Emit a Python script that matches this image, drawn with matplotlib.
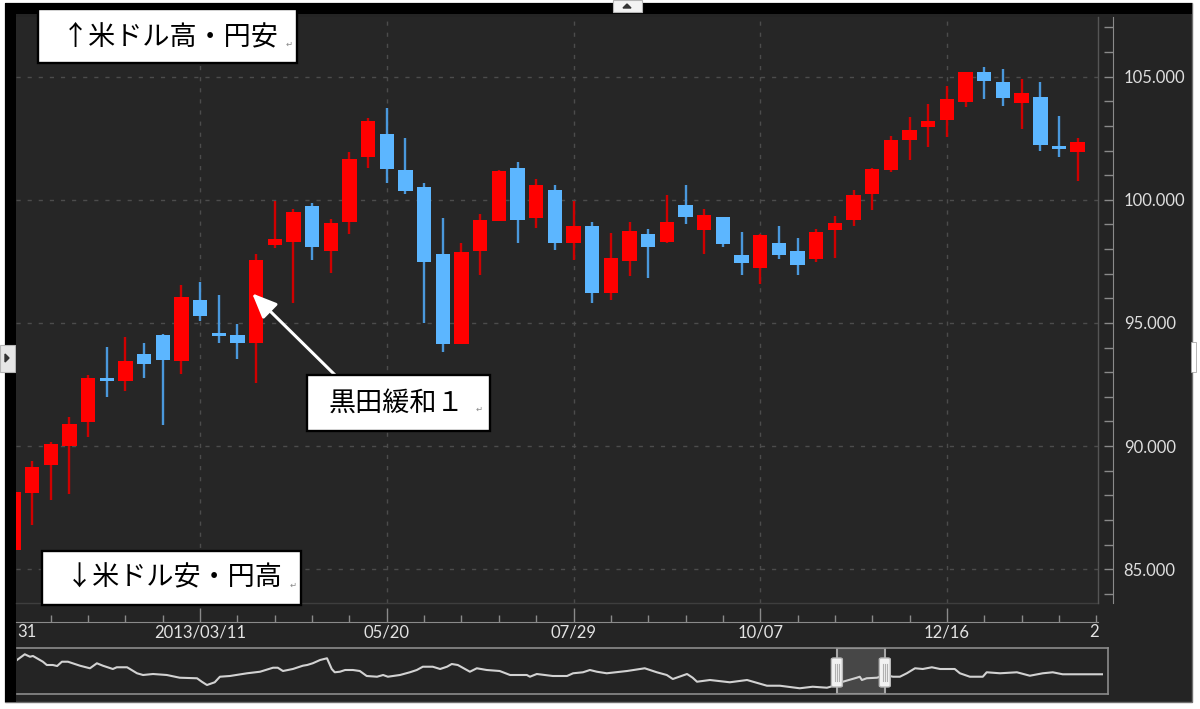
import matplotlib
matplotlib.use("Agg")
import matplotlib.pyplot as plt
import matplotlib.dates as mdates
from matplotlib.patches import Rectangle, FancyBboxPatch, Polygon
from matplotlib.transforms import blended_transform_factory
from matplotlib.lines import Line2D
from matplotlib.ticker import MultipleLocator, FixedLocator, FormatStrFormatter
import numpy as np
import pandas as pd

# ---------------- data ----------------
week_start = "2012-12-31"
opens  = [85.8, 88.1, 89.24, 90.02, 90.97, 92.78, 92.66, 93.74, 94.51, 93.47,
          95.93, 94.58, 94.51, 94.2, 98.17, 98.28, 99.75, 97.9, 99.09, 101.75,
          102.67, 101.21, 100.53, 97.8, 94.13, 97.94, 99.15, 101.28, 99.25, 100.4,
          98.24, 98.95, 96.2, 97.52, 98.6, 98.28, 99.79, 98.78, 99.29, 97.76,
          97.22, 98.23, 97.94, 97.6, 98.78, 99.18, 100.24, 101.21, 102.43, 102.97,
          103.24, 103.96, 105.18, 104.8, 103.94, 104.19, 102.2, 101.93]
highs  = [88.2, 89.4, 90.15, 91.17, 92.9, 94.04, 94.42, 94.18, 94.55, 96.54,
          96.68, 96.14, 94.95, 97.8, 99.94, 99.63, 99.86, 99.22, 101.95, 103.31,
          103.72, 102.5, 100.7, 99.25, 98.26, 99.43, 101.2, 101.52, 100.83, 100.6,
          99.95, 99.11, 98.64, 99.11, 98.8, 100.2, 100.6, 99.63, 99.32, 98.68,
          98.6, 98.95, 98.46, 98.8, 99.36, 100.4, 101.31, 102.59, 103.35, 103.88,
          104.62, 105.2, 105.41, 105.3, 104.89, 104.8, 103.4, 102.52]
lows   = [85.7, 86.8, 87.8, 88.06, 90.37, 92.0, 92.25, 92.76, 90.86, 92.93,
          95.09, 94.2, 93.53, 92.58, 98.03, 95.8, 97.56, 97.02, 98.6, 101.28,
          100.67, 100.24, 94.99, 93.8, 94.13, 96.95, 99.15, 98.26, 98.85, 97.96,
          97.56, 95.8, 95.93, 96.91, 96.82, 98.25, 99.02, 97.79, 98.1, 96.95,
          96.57, 97.58, 96.95, 97.46, 97.65, 98.94, 99.59, 101.14, 101.62, 102.16,
          102.54, 103.78, 104.09, 103.82, 102.86, 102.0, 101.75, 100.77]
closes = [88.15, 89.17, 90.09, 90.9, 92.78, 92.65, 93.47, 93.34, 93.5, 96.04,
          95.28, 94.47, 94.2, 97.56, 98.4, 99.52, 98.07, 99.05, 101.65, 103.2,
          101.24, 100.37, 97.46, 94.15, 97.87, 99.18, 101.17, 99.18, 100.6, 98.26,
          98.95, 96.2, 97.63, 98.73, 98.1, 99.11, 99.32, 99.38, 98.2, 97.42,
          98.57, 97.76, 97.36, 98.71, 99.07, 100.2, 101.25, 102.43, 102.84, 103.21,
          104.08, 105.18, 104.84, 104.12, 104.33, 102.23, 102.06, 102.36]

x_tick_weeks  = [10, 20, 30, 40, 50]
x_tick_labels = ["2013/03/11", "05/20", "07/29", "10/07", "12/16"]
x_edge_labels = ["31", "2"]          # visible remains of 12/31 and 2014/02/24 at the edges

# navigator (long-term overview line)
nav_years = [1994.01, 1994.19, 1994.31, 1994.38, 1994.61, 1994.70, 1994.84, 1994.94, 1995.05, 1995.19,
             1995.47, 1995.70, 1995.86, 1996.00, 1996.23, 1996.32, 1996.56, 1996.79, 1996.93, 1997.16,
             1997.48, 1997.78, 1998.18, 1998.29, 1998.41, 1998.59, 1998.71, 1998.94, 1999.34, 1999.64,
             1999.94, 2000.05, 2000.17, 2000.40, 2000.63, 2000.73, 2000.86, 2001.03, 2001.19, 2001.30,
             2001.37, 2001.49, 2001.61, 2001.79, 2001.95, 2002.11, 2002.35, 2002.49, 2002.60, 2002.88,
             2003.11, 2003.27, 2003.41, 2003.64, 2003.81, 2003.97, 2004.08, 2004.22, 2004.50, 2004.66,
             2004.89, 2005.19, 2005.43, 2005.82, 2005.89, 2006.05, 2006.42, 2006.75, 2006.89, 2007.12,
             2007.28, 2007.44, 2007.67, 2008.14, 2008.55, 2008.83, 2009.06, 2009.20, 2009.53, 2009.66,
             2009.76, 2010.06, 2010.52, 2010.92, 2011.38, 2011.68, 2012.14, 2012.44, 2012.77, 2013.00,
             2013.14, 2013.46, 2013.53, 2013.58, 2013.69, 2013.93, 2014.11, 2014.30, 2014.46, 2014.62,
             2014.81, 2014.99, 2015.20, 2015.39, 2015.73, 2015.85, 2016.08, 2016.38, 2016.47, 2016.78,
             2017.17, 2017.47, 2017.77, 2018.00, 2018.23, 2018.63, 2019.14]
nav_values = [132.0, 142.3, 137.9, 139.2, 128.9, 123.0, 123.0, 121.2, 128.9, 128.9,
              121.7, 117.1, 126.1, 121.7, 115.8, 118.9, 118.9, 108.1, 105.0, 106.8,
              105.0, 100.1, 99.1, 92.9, 87.0, 91.9, 101.9, 103.2, 108.1, 110.9,
              118.1, 118.1, 112.2, 115.8, 121.7, 123.0, 126.1, 132.0, 135.1, 115.8,
              109.9, 110.9, 114.0, 114.0, 112.2, 103.2, 101.9, 105.0, 101.9, 105.0,
              109.9, 114.0, 119.9, 119.9, 115.8, 119.9, 124.8, 123.0, 110.9, 117.1,
              114.0, 112.2, 105.0, 105.0, 101.9, 106.8, 103.2, 103.2, 108.1, 109.9,
              114.0, 110.9, 108.1, 112.2, 117.1, 109.9, 105.0, 97.8, 106.8, 100.1,
              92.9, 96.0, 91.9, 96.0, 85.7, 85.7, 81.1, 83.9, 82.1, 87.0,
              92.9, 100.1, 101.9, 96.0, 99.1, 100.1, 105.0, 101.9, 101.9, 108.1,
              117.1, 115.8, 118.9, 115.8, 115.8, 108.1, 101.9, 101.9, 109.9, 108.1,
              109.9, 103.7, 108.1, 109.9, 106.3, 106.3, 106.3]

label_up = "↑米ドル高・円安"
label_down = "↓米ドル安・円高"
label_event = "黒田緩和１"
event_week = 13

# ---------------- figure ----------------
W, H = 1200, 709
plt.rcParams["font.family"] = ["Lato", "DejaVu Sans"]
fig = plt.figure(figsize=(W / 100, H / 100), dpi=100, facecolor="white")
CJK = ["Noto Sans CJK JP", "DejaVu Sans"]


def fx(px):
    return px / W


def fy(py):
    return 1 - py / H


def frect(x0, y0, x1, y1, **kw):
    r = Rectangle((fx(x0), fy(y1)), fx(x1) - fx(x0), fy(y0) - fy(y1),
                  transform=fig.transFigure, **kw)
    fig.add_artist(r)
    return r


BG = "#242424"
frect(5, 3, 1192, 702, facecolor=BG, edgecolor="#707070", lw=1, zorder=-10)
frect(5, 3, 1192, 14, facecolor="black", edgecolor="none", zorder=-9)
frect(5, 3, 16, 702, facecolor="black", edgecolor="none", zorder=-9)
# small UI buttons
frect(613, 0, 642, 12, facecolor="#f3f3f3", edgecolor="#b5b5b5", lw=0.8, zorder=-8)
fig.add_artist(Polygon([(fx(623), fy(8)), (fx(631), fy(8)), (fx(627), fy(4))],
                       closed=True, transform=fig.transFigure, color="#333333", zorder=-7))
frect(0, 345, 15, 372, facecolor="#e6e6e6", edgecolor="#b5b5b5", lw=0.8, zorder=-8)
fig.add_artist(Polygon([(fx(5), fy(354)), (fx(5), fy(362)), (fx(9), fy(358))],
                       closed=True, transform=fig.transFigure, color="#333333", zorder=-7))
frect(1191, 342, 1196, 372, facecolor="white", edgecolor="#aaaaaa", lw=0.6, zorder=-8)

# ---------------- main axes ----------------
dates = pd.date_range(week_start, periods=len(opens), freq="7D")
xn = mdates.date2num(dates)
x0 = xn[0]
wk = 7.0

ax = fig.add_axes([fx(16), fy(603), fx(1098) - fx(16), fy(17) - fy(603)])
ax.set_facecolor("#262626")
ax.set_xlim(x0 + 0.14 * wk, x0 + 58.09 * wk)
ax.set_ylim(83.63, 107.42)

UP, DOWN = "#ff0000", "#5cb6ff"
UPW, DOWNW = "#d00000", "#4a98dc"
o = np.array(opens); c = np.array(closes)
hi = np.array(highs); lo = np.array(lows)
up = c >= o
body_col = np.where(up, UP, DOWN)
wick_col = np.where(up, UPW, DOWNW)
ax.vlines(xn, lo, hi, colors=wick_col, lw=1.7, zorder=3)
ax.bar(xn, np.maximum(np.abs(c - o), 0.08), bottom=np.minimum(o, c), width=5.4,
       color=body_col, edgecolor="none", zorder=4)

# grid
ax.grid(True, which="major", color="#4c4c4c", linestyle=(0, (3, 5)), lw=1)
ax.set_axisbelow(True)

# y axis on right
ax.yaxis.tick_right()
ax.yaxis.set_major_locator(MultipleLocator(5))
ax.yaxis.set_minor_locator(MultipleLocator(1))
ax.yaxis.set_major_formatter(FormatStrFormatter("%.3f"))
for s in ["left", "top"]:
    ax.spines[s].set_visible(False)
ax.spines["right"].set_position(("outward", 11))
ax.spines["right"].set_color("#8a8a8a")
ax.tick_params(axis="y", which="both", direction="in", length=6.5, width=1,
               color="#8a8a8a", labelcolor="#dedede", labelsize=12, pad=7.5)

# x axis
major_x = [x0 + w * wk for w in x_tick_weeks]
ax.xaxis.set_major_locator(FixedLocator(major_x))
ax.xaxis.set_minor_locator(FixedLocator([x0 + w * wk for w in range(0, 62, 2) if w % 10]))
ax.spines["bottom"].set_position(("outward", 14))
ax.spines["bottom"].set_color("#8a8a8a")
ax.tick_params(axis="x", which="major", direction="in", length=10, width=1, color="#8a8a8a",
               labelbottom=False)
ax.tick_params(axis="x", which="minor", direction="in", length=5, width=1, color="#8a8a8a")

# plot edge lines
ax.add_line(Line2D([0, 1], [0, 0], transform=ax.transAxes, color="#3e3e3e", lw=1, clip_on=False))
ax.add_line(Line2D([1, 1], [0, 1], transform=ax.transAxes, color="#555555", lw=1, clip_on=False))

# x tick labels
btrans = blended_transform_factory(ax.transData, fig.transFigure)
for xv, lab in zip(major_x, x_tick_labels):
    fig.text(xv, fy(632), lab, transform=btrans, ha="center", va="center",
             fontsize=12, color="#e2e2e2")
fig.text(fx(17), fy(632), x_edge_labels[0], ha="left", va="center", fontsize=12, color="#e2e2e2")
fig.text(fx(1089), fy(632), x_edge_labels[1], ha="left", va="center", fontsize=12, color="#e2e2e2")

# arrow to Kuroda easing candle
ax.annotate("", xy=(xn[event_week] - 1.5, 96.2), xycoords="data",
            xytext=(fx(335), fy(375)), textcoords="figure fraction",
            arrowprops=dict(arrowstyle="-|>,head_length=0.75,head_width=0.32", color="white",
                            lw=2.2, mutation_scale=20, shrinkA=0, shrinkB=0),
            annotation_clip=False, zorder=6)

# ---------------- navigator ----------------
nav = fig.add_axes([fx(17), fy(694), fx(1108) - fx(17), fy(648) - fy(694)])
nav.set_facecolor(BG)
base = mdates.date2num(pd.Timestamp("2013-01-01"))
nav_x = base + (np.array(nav_years) - 2013.0) * 365.25
nav.set_xlim(base + (1994.01 - 2013.0) * 365.25, base + (2019.28 - 2013.0) * 365.25)
nav.set_ylim(70.8, 153.6)
nav.set_xticks([]); nav.set_yticks([])
for s in nav.spines.values():
    s.set_color("#8c8c8c"); s.set_linewidth(1.2)
nav.spines["left"].set_visible(False)
wx0, wx1 = ax.get_xlim()
nav.axvspan(wx0, wx1, facecolor="#474747", edgecolor="#a8a8a8", lw=1.5, zorder=1)
nav.plot(nav_x, nav_values, color="#d2d2d2", lw=1.5, zorder=2)

for edge in (wx0, wx1):
    px = nav.transData.transform((edge, 0))[0]
    hb = FancyBboxPatch((fx(px - 5.5), fy(687)), fx(11), fy(658) - fy(687),
                        boxstyle="round,pad=0,rounding_size=0.002",
                        transform=fig.transFigure, facecolor="#f2f2f2",
                        edgecolor="#b8b8b8", lw=1, zorder=5)
    fig.add_artist(hb)
    for dx in (-2, 0, 2):
        fig.add_artist(Line2D([fx(px + dx), fx(px + dx)], [fy(664), fy(681)],
                              transform=fig.transFigure, color="#b0b0b0", lw=0.8, zorder=6))

# ---------------- annotation boxes ----------------
def label_box(x0, y0, x1, y1, tx, ty, text, rx, ry):
    frect(x0, y0, x1, y1, facecolor="white", edgecolor="black", lw=1.7, zorder=7)
    fig.text(fx(tx), fy(ty), text, fontsize=19.5, family=CJK, color="black",
             ha="left", va="center", zorder=8)
    fig.text(fx(rx), fy(ry), "↵", fontsize=6, family=["DejaVu Sans"], color="#8a8a8a",
             ha="center", va="center", zorder=8)


label_box(38, 9, 297, 63, 62, 37, label_up, 289, 44)
label_box(42, 551, 301, 605, 66, 578, label_down, 293, 585)
label_box(307, 375, 490, 431, 329, 403, label_event, 479, 409)

fig.savefig("out.png", dpi=100, facecolor="white")
